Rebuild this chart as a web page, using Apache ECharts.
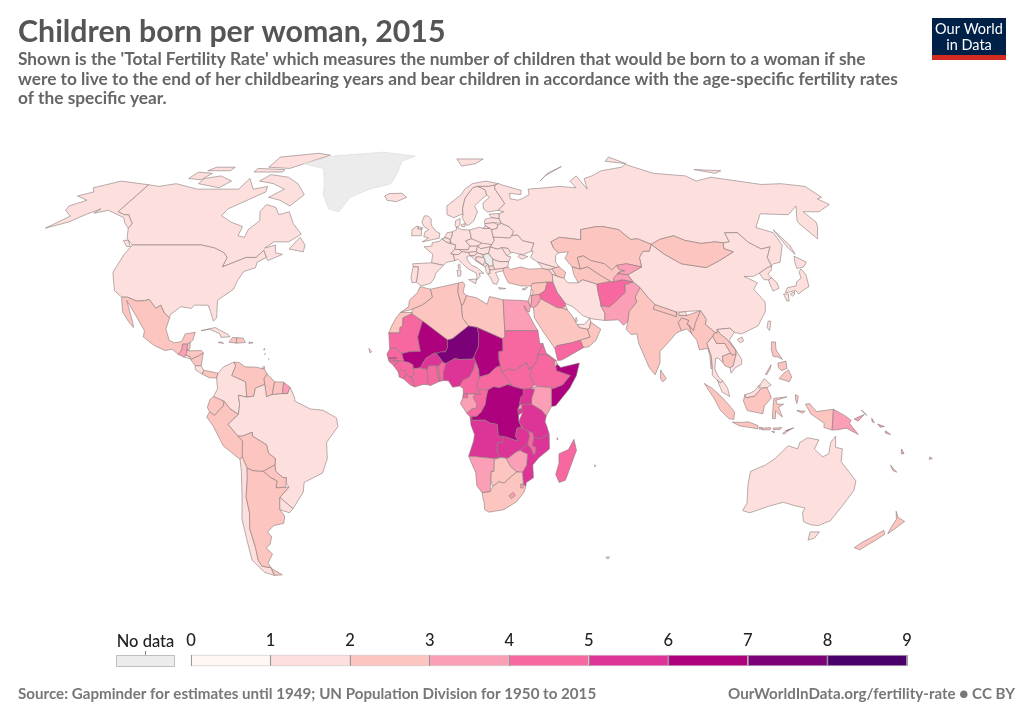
<!DOCTYPE html>
<html>
<head>
<meta charset="utf-8">
<title>Children born per woman, 2015</title>
<script src="https://cdn.jsdelivr.net/npm/echarts@6/dist/echarts.min.js"></script>
<style>html,body{margin:0;background:#fff}#chart{width:1024px;height:723px}</style>
</head>
<body>
<div id="chart"></div>
<script>
// values, one bin per colour is all the picture really tells
const countries = ['Canada','USA','Mexico','Guatemala','Belize','El Salvador','Honduras','Nicaragua','Costa Rica','Panama','Cuba','Haiti','Dominican Rep.','Jamaica','Puerto Rico','Trinidad',
  'Colombia','Venezuela','Guyana','Suriname','French Guiana','Ecuador','Peru','Brazil','Bolivia','Paraguay','Chile','Argentina','Uruguay',
  'Morocco','W. Sahara','Mauritania','Algeria','Tunisia','Libya','Egypt','Sudan','South Sudan','Eritrea','Djibouti','Ethiopia','Somalia','Kenya','Uganda','Tanzania','Rwanda','Burundi','DR Congo','Angola','Zambia','Malawi','Mozambique','Zimbabwe','Botswana','Namibia','South Africa','Lesotho','Swaziland','Madagascar',
  'Mali','Senegal','Gambia','Guinea-Bissau','Guinea','Sierra Leone','Liberia','Ivory Coast','Ghana','Togo','Benin','Burkina Faso','Niger','Nigeria','Cameroon','Chad','CAR','Congo','Gabon','Eq. Guinea',
  'Iceland','Ireland','UK','France','Spain','Portugal','Belgium','Netherlands','Luxembourg','Germany','Switzerland','Austria','Italy','Denmark','Norway','Sweden','Finland','Estonia','Latvia','Lithuania','Poland','Czechia','Slovakia','Hungary','Slovenia','Croatia','Bosnia','Montenegro','Albania','Macedonia','Greece','Bulgaria','Romania','Moldova','Ukraine','Belarus','Russia',
  'Turkey','Georgia','Armenia','Azerbaijan','Cyprus','Syria','Lebanon','Israel','Jordan','Iraq','Iran','Saudi Arabia','Kuwait','Qatar','UAE','Oman','Yemen','Sri Lanka','Afghanistan','Pakistan','India','Nepal','Bhutan','Bangladesh','Myanmar','China','Taiwan','Mongolia','Kazakhstan','Uzbekistan','Turkmenistan','Kyrgyzstan','Tajikistan','Thailand','Laos','Cambodia','Vietnam','Malaysia','Brunei','Indonesia','Timor-Leste','PNG','Philippines','Japan','North Korea','South Korea','Australia','New Zealand','Solomon Is.','Vanuatu','New Caledonia','Fiji','Cape Verde','Comoros','Mauritius'];
const fertility = [1.6,1.9,2.2,3.1,2.5,2.0,2.4,2.2,1.8,2.5,1.7,2.9,2.4,2.0,1.6,1.8,
  1.9,2.3,2.5,2.4,3.4,2.5,2.4,1.8,2.9,2.5,1.8,2.3,2.0,
  2.5,2.5,4.7,2.8,2.2,2.4,3.4,4.4,4.9,4.1,2.9,4.3,6.4,3.9,5.6,5.1,3.9,5.8,6.2,5.8,5.2,4.6,5.2,3.9,2.8,3.5,2.4,3.2,3.1,4.3,
  6.3,4.8,5.5,4.7,5.0,4.6,4.6,4.9,4.2,4.5,5.0,5.5,7.4,5.5,4.7,6.1,4.2,4.8,3.7,4.8,
  1.9,1.9,1.9,2.0,1.3,1.2,1.8,1.7,1.6,1.4,1.5,1.5,1.4,1.7,1.8,1.9,1.8,1.6,1.5,1.6,1.3,1.5,1.4,1.3,1.6,1.5,1.3,1.7,1.7,1.5,1.3,1.5,1.5,1.2,1.5,1.6,1.8,
  2.1,2.0,1.6,2.2,1.3,2.9,1.7,3.0,3.4,4.6,1.7,2.7,2.1,1.9,1.8,2.7,4.1,2.1,4.6,3.7,2.4,2.2,2.0,2.2,2.2,1.6,1.1,2.7,2.7,2.4,2.9,3.1,3.4,1.5,2.7,2.6,2.0,2.0,1.9,2.4,5.9,3.7,2.9,1.4,1.9,1.2,1.9,2.05,4.0,3.4,2.2,2.6,2.4,4.3,1.4];
const noDataCountries = ['Greenland','Serbia','Kerguelen'];
const legendTicks = [0,1,2,3,4,5,6,7,8,9];
const legendColors = ['#fff7f3','#fde0dd','#fcc5c0','#fa9fb5','#f768a1','#dd3497','#ae017e','#7a0177','#49006a'];

// simplified country outlines in lon,lat - one string per ring
const outlines = {
  Canada:['-141,69.6 -135,69 -128,70 -115,68 -108,68 -95,68 -94,72 -88,68 -82,69 -81,67 -87,64 -93,61 -94,58.7 -88,56.5 -82,55 -82,52 -79,51.5 -79,54 -76,57 -78,60 -77,62.5 -72,61.5 -69,59 -65,60 -61,56 -56,52.5 -60,50 -66,50 -69,48 -65,49 -64,46.5 -61,46 -66,44 -67,45 -69,47.3 -71,45 -75,45 -79,43.5 -83,42 -82.5,45 -84.5,46.5 -89,48 -95,49 -123,49 -127,51 -130,54.5 -130,56 -135,59 -137,59 -141,60',
    '-62,66 -66,62 -72,64 -78,65 -73,68 -80,70 -88,71 -85,73.5 -75,72.5 -68,70','-117,70 -105,68.5 -102,71 -110,73 -117,72','-90,76.5 -78,76 -62,82 -70,83 -90,81','-125,72 -118,71.5 -116,74 -124,74.5','-95,74.5 -80,74.5 -80,75.5 -95,76','-59,47.7 -53,46.8 -53,49 -56,51.5','-128,50.5 -125,48.5 -123.5,48.5 -126,50.5','-120,75 -108,75 -108,76.5 -118,76.5'],
  USA:['-123,49 -95,49 -89,48 -84.5,46.5 -82.5,45 -83,42 -79,43.5 -75,45 -71,45 -69,47.3 -67,45 -70,43.5 -70,41.7 -74,40.6 -75.5,37.5 -76,35 -81,31.5 -80,26 -81,25 -82.7,28 -84,30 -89,30 -90,29 -94,29.5 -97.2,27 -97.2,26 -99.5,27.5 -101.5,30 -103,29 -106.5,31.8 -108,31.4 -111,31.3 -114.8,32.5 -117,32.5 -120.5,34.5 -122.5,37.5 -124.3,40.3 -124,46',
    '-141,69.6 -141,60 -137,59 -135,59 -130,56 -130,54.5 -133,56 -136,58 -146,60.5 -151,59.5 -150,61 -154,59 -158,56.5 -165,54.5 -160,58.5 -165,60.5 -166,62 -161,64 -168,65.5 -163,67 -166,68.5 -157,71'],
  Greenland:['-73,78 -60,81.5 -32,83.6 -12,81.5 -19,79 -20,74 -22,70 -32,68 -40,65 -43,60 -48,61 -53,66 -55,70 -60,76'],
  Mexico:['-117,32.5 -114.8,32.5 -111,31.3 -108,31.4 -106.5,31.8 -103,29 -101.5,30 -99.5,27.5 -97.2,26 -97.8,22.5 -96,19 -94,18.2 -91.5,18.6 -90.5,21 -87,21.5 -87.5,19 -88.3,18.4 -89.2,17.8 -91,17.8 -91,16 -92.2,14.6 -94.5,16.2 -97,15.8 -101,17.3 -105.5,20 -105.5,22 -109,26 -112.5,29.5 -114.7,31.5 -112,27.5 -110,24 -109.7,23 -112,25 -115,28'],
  Guatemala:['-92.2,14.6 -91,16 -91,17.8 -89.2,17.8 -89.2,15.9 -88.2,15.7 -89.3,14.4 -90.1,13.8'],
  Belize:['-89.2,17.8 -88.3,18.4 -88.2,16.3 -89.2,15.9'],
  'El Salvador':['-90.1,13.8 -89.3,14.4 -87.8,13.9 -87.8,13.2'],
  Honduras:['-89.2,15.9 -88.2,15.7 -84,15.8 -83.2,15 -85,14 -87.5,13 -87.8,13.9 -89.3,14.4'],
  Nicaragua:['-87.5,13 -85,14 -83.2,15 -83.6,11 -85.7,11'],
  'Costa Rica':['-85.7,11 -83.6,11 -82.6,9.6 -83,8.4 -85.6,9.8'],
  Panama:['-83,8.4 -82.6,9.6 -80,9.2 -77.4,8.7 -77.9,7.2 -80.5,7.3'],
  Cuba:['-85,22 -80,23 -75,20.8 -74.3,20.1 -77.5,19.9 -78,21 -82,22.5'],
  Haiti:['-74.4,18.4 -71.8,18.1 -71.7,19.8 -73.3,19.9'],
  'Dominican Rep.':['-71.8,18.1 -68.5,18.3 -69.5,19.7 -71.7,19.8'],
  Jamaica:['-78.3,18.3 -76.3,18 -77,18.5'],
  'Puerto Rico':['-67.2,18 -65.7,18.2 -67.2,18.5'],
  Trinidad:['-61.8,10.1 -61,10.1 -61,10.8 -61.6,10.7','-61.2,14.5 -60.9,14.5 -61,14.9','-61.7,16 -61.2,16.1 -61.5,16.5','-59.7,13 -59.4,13.1 -59.6,13.3'],
  Colombia:['-77.4,8.7 -75.6,10.7 -72,12.2 -71.3,11 -72.5,8 -70,7 -67.5,6 -67,1.2 -70,1.8 -69.5,-1 -70,-4.2 -73,-2.4 -75,-0.1 -78.8,1.4 -77.4,3.8 -77.9,7.2'],
  Venezuela:['-72,12.2 -70,12 -68,10.7 -64,10.6 -61,10 -60,8.5 -61,7 -60.7,5.2 -64,4 -64.5,1.5 -67,1.2 -67.5,6 -70,7 -72.5,8 -71.3,11'],
  Guyana:['-60,8.5 -57.2,6 -58,2 -60,1.3 -60.7,5.2 -61,7'],
  Suriname:['-57.2,6 -54,5.9 -54.4,2.3 -58,2'],
  'French Guiana':['-54,5.9 -51.7,4.3 -52.5,2.3 -54.4,2.3'],
  Ecuador:['-78.8,1.4 -75,-0.1 -75.3,-1.5 -78.5,-4.5 -80.2,-3.4 -81,-2 -80,0.5'],
  Peru:['-80.2,-3.4 -78.5,-4.5 -75.3,-1.5 -75,-0.1 -73,-2.4 -70,-4.2 -73.8,-7.3 -70.5,-11 -69,-12.5 -69.5,-17.5 -70.4,-18.3 -76,-14 -79,-8 -81.3,-5'],
  Brazil:['-70,-4.2 -69.5,-1 -70,1.8 -67,1.2 -64.5,1.5 -64,4 -60.7,5.2 -60,1.3 -58,2 -54.4,2.3 -52.5,2.3 -51.7,4.3 -50,1 -50,0 -44.5,-2.5 -40,-2.9 -35.2,-5.3 -34.8,-8 -39,-13 -39,-18 -41,-22.5 -48,-25.5 -48.7,-28.5 -53.4,-33.7 -57.6,-30.2 -53.8,-27 -54.6,-25.5 -54.3,-24 -55.5,-24 -58,-22 -58,-20 -57.7,-18 -60,-16.3 -60.5,-13.7 -65.3,-11 -65.3,-9.8 -69,-11 -70.5,-11 -73.8,-7.3'],
  Bolivia:['-69,-12.5 -70.5,-11 -69,-11 -65.3,-9.8 -65.3,-11 -60.5,-13.7 -60,-16.3 -57.7,-18 -58,-20 -62.5,-22 -64,-22 -66.2,-21.8 -68.2,-21 -69.5,-17.5'],
  Paraguay:['-62.5,-22 -58,-20 -58,-22 -55.5,-24 -54.3,-24 -54.6,-25.5 -55,-27 -58.5,-27.2 -57.8,-25 -60,-24'],
  Chile:['-70.4,-18.3 -69.5,-17.5 -68.2,-21 -68.5,-24 -70,-30 -70,-35 -71.5,-40 -71.7,-46 -72.5,-50 -72,-52 -68.5,-52.5 -68.5,-55 -72,-54 -75,-50 -74,-43 -73.5,-37 -71.5,-30 -70.4,-22'],
  Argentina:['-66.2,-21.8 -64,-22 -62.5,-22 -60,-24 -57.8,-25 -58.5,-27.2 -55,-27 -53.8,-27 -57.6,-30.2 -58.4,-34 -57,-36 -58,-38.3 -62,-39 -65,-41 -64,-42.5 -65.5,-45 -67.5,-46 -65.8,-48 -69,-51 -68.5,-52.5 -72,-52 -72.5,-50 -71.7,-46 -71.5,-40 -70,-35 -70,-30 -68.5,-24 -68.2,-21','-68.5,-52.7 -65,-54.8 -68.5,-55'],
  Uruguay:['-57.6,-30.2 -53.4,-33.7 -55,-35 -58.4,-34'],
  Morocco:['-5.9,35.8 -2,35 -1.2,32.5 -5,30 -8.7,28.7 -13,27.7 -10,29.5 -9.8,31.5 -6.8,34'],
  'W. Sahara':['-13,27.7 -8.7,27.7 -8.7,27.3 -12,26 -12,23.4 -13,23 -13,21.3 -17,21.3 -16,23.5 -14.5,26'],
  Mauritania:['-17,21.3 -13,21.3 -13,23 -12,23.4 -12,26 -8.7,27.3 -4.8,25 -6.5,20 -5.5,15.5 -9.5,15.4 -12.2,14.8 -14.5,16.6 -16.5,16.3'],
  Algeria:['-2,35 8.6,36.9 8.3,34 9.5,30 9.8,26 11.9,23.5 6,19.5 4.2,19.1 -4.8,25 -8.7,27.3 -8.7,28.7 -5,30 -1.2,32.5'],
  Tunisia:['8.6,36.9 10.2,37.3 11,36.5 10.2,34 11.5,33 10.2,30.3 9.5,30 8.3,34'],
  Libya:['11.5,33 15.2,32.3 19,30.3 20,32.7 25,31.7 25,22 25,20 24,19.5 15,23 11.9,23.5 9.8,26 9.5,30 10.2,30.3'],
  Egypt:['25,31.7 31,31.5 34.2,31.3 34.9,29.5 34.3,27.8 33,28.5 32.6,29.9 35.7,24 37,22 25,22'],
  Sudan:['25,22 37,22 37.4,18 38.5,18 36.5,14.3 36,12.5 34.3,10.5 33,10 32.5,12 28,9.5 26,10 23.5,9 23,11 22.5,13 22.5,15.5 24,15.7 24,19.5 25,20'],
  'South Sudan':['23.5,9 26,10 28,9.5 32.5,12 33,10 34.3,10.5 33.5,8 35,5 33.8,4 31,3.7 28,4.4 25.5,5.2 27,5 24.5,8'],
  Eritrea:['36.5,14.3 38.5,18 39.5,15 43,12.7 42.4,12.4 40,14.5 37,14.5'],
  Djibouti:['42.4,12.4 43,12.7 43.3,11.5 42,11'],
  Ethiopia:['36.5,14.3 37,14.5 40,14.5 42.4,12.4 42,11 42.8,10.9 43,9.5 47.9,8 45,5 41.9,3.9 40,4.3 36,4.5 35,5 33.5,8 34.3,10.5 36,12.5'],
  Somalia:['43.3,11.5 44.5,10.5 51.2,11.9 50,8 47.5,4 42.5,-1.5 41,-1.7 41,3.9 41.9,3.9 45,5 47.9,8 43,9.5 42.8,10.9'],
  Kenya:['36,4.5 40,4.3 41,3.9 41,-1.7 39.2,-4.7 37.6,-3 33.9,-1 34,1 35,3.5 34,4.2'],
  Uganda:['31,3.7 33.8,4 35,3.5 34,1 33.9,-1 30.5,-1 29.6,-1.4 30,1 31,2'],
  Tanzania:['33.9,-1 37.6,-3 39.2,-4.7 38.8,-6.5 39.5,-8 40.4,-10.4 37.5,-11.7 34.9,-11.5 34.5,-10 33,-9.5 31,-8.5 29.5,-6.5 30.8,-3.5 30.5,-2.4 30.5,-1'],
  Rwanda:['29.6,-1.4 30.5,-1 30.5,-2.4 29,-2.7'],
  Burundi:['29,-2.7 30.5,-2.4 30.8,-3.5 29.4,-4.4'],
  'DR Congo':['25.5,5.2 28,4.4 31,3.7 31,2 30,1 29.6,-1.4 29,-2.7 29.4,-4.4 29.5,-6.5 30.5,-8.2 28.9,-8.5 28.4,-11 29.5,-12.5 28,-12.2 25.5,-11.4 22.3,-11 21.8,-7.3 19.5,-7 17.5,-6 12.3,-6 13,-4.8 14.5,-4.8 16,-3.5 17.5,-1 17.8,1 18.5,3.5 20.5,4.5 22.5,4.2'],
  Angola:['12.3,-6 17.5,-6 19.5,-7 21.8,-7.3 22.3,-11 24,-11 24,-13 22,-13 22,-16.2 23.4,-17.6 21,-18 13.9,-17.4 11.8,-17.3 13.5,-12.5 13.8,-10.5 12.5,-7.5','12.2,-5 13,-4.8 12.8,-5.8 12.2,-5.7'],
  Zambia:['22,-13 24,-13 24,-11 25.5,-11.4 28,-12.2 29.5,-12.5 28.4,-11 28.9,-8.5 30.5,-8.2 31,-8.5 33,-9.5 33.5,-11 32.8,-13.6 30.3,-15.3 28.8,-16 26,-17.9 23.4,-17.6 22,-16.2'],
  Malawi:['33,-9.5 34.5,-10 34.9,-11.5 34.6,-14 35.8,-14.5 35.8,-16 35.1,-17 34.2,-15 32.8,-13.6 33.5,-11'],
  Mozambique:['40.4,-10.4 40.7,-15 37,-17.8 35,-20 35.5,-24 33,-25.5 32.9,-26.8 32,-26 31.4,-22.3 32.8,-20 32.9,-16.6 30.3,-16 30.3,-15.3 32.8,-13.6 34.2,-15 35.1,-17 35.8,-16 35.8,-14.5 34.6,-14 34.9,-11.5 37.5,-11.7'],
  Zimbabwe:['26,-17.9 28.8,-16 30.3,-15.5 32.9,-16.6 32.8,-20 31.4,-22.3 29.4,-22.2 27,-20.5 25.3,-18'],
  Botswana:['21,-18 23.4,-17.6 25.3,-18 27,-20.5 29.4,-22.2 26,-24.7 25,-25.7 23,-25.3 20.8,-26.8 20,-24.7 20,-22 21,-22'],
  Namibia:['11.8,-17.3 13.9,-17.4 21,-18 23.4,-17.6 21,-18.3 21,-22 20,-22 20,-28.4 17,-28.7 15,-26.5 14.5,-22.5'],
  'South Africa':['17,-28.7 20,-28.4 20.8,-26.8 23,-25.3 25,-25.7 26,-24.7 29.4,-22.2 31.4,-22.3 32,-26 32.9,-26.8 32.5,-28.5 30,-31.5 25.5,-34 20,-34.8 18.3,-34 18,-32'],
  Lesotho:['27,-29.6 28.5,-28.6 29.3,-29.5 28,-30.6'],
  Swaziland:['31,-26 32,-26 32,-27.2 31,-27.2'],
  Madagascar:['49.3,-12 50.4,-15.5 49.5,-18 47.2,-24.8 45,-25.5 43.5,-23 44.4,-19.5 44.2,-16.5 47.5,-15.2'],
  Mali:['-12.2,14.8 -9.5,15.4 -5.5,15.5 -6.5,20 -4.8,25 4.2,19.1 4.2,16.8 3.5,15.4 1.5,15.3 0.2,14.9 -0.5,15 -2,14.2 -3.5,13.4 -4.5,12 -5.5,10.4 -7,10.2 -8,10.2 -8.2,11.3 -9.5,12 -11.4,12.4'],
  Senegal:['-16.5,16.3 -14.5,16.6 -12.2,14.8 -11.4,12.4 -13.7,12.6 -16.7,12.4 -17.5,14.7'],
  Gambia:['-16.8,13.6 -14,13.7 -14,13.2 -16.8,13.2'],
  'Guinea-Bissau':['-16.7,12.4 -13.7,12.6 -13.7,11.7 -15,11'],
  Guinea:['-13.7,12.6 -11.4,12.4 -9.5,12 -8.2,11.3 -8,10.2 -7.7,8.4 -8.5,7.6 -9.4,7.5 -10.5,8.5 -10.7,9.2 -12.5,9.9 -13.3,9 -15,11 -13.7,11.7'],
  'Sierra Leone':['-13.3,9 -12.5,9.9 -10.7,9.2 -10.5,8.5 -11.4,6.9 -13,7.5'],
  Liberia:['-11.4,6.9 -10.5,8.5 -9.4,7.5 -8.5,7.6 -7.5,4.4 -9,5'],
  'Ivory Coast':['-8,10.2 -7,10.2 -5.5,10.4 -3,9.9 -2.7,5.1 -4.5,5.2 -7.5,4.4 -8.5,7.6 -7.7,8.4'],
  Ghana:['-3,9.9 -2.7,11 0,11.1 0.6,8 1.2,6.1 -2,4.8 -2.7,5.1'],
  Togo:['0,11.1 0.9,10.9 1.6,6.2 1.2,6.1 0.6,8'],
  Benin:['0.9,10.9 2.4,12.3 3.6,11.7 2.7,9 2.7,6.4 1.6,6.2'],
  'Burkina Faso':['-5.5,10.4 -4.5,12 -3.5,13.4 -2,14.2 -0.5,15 0.2,14.9 2.2,12.7 2.4,12.3 0.9,10.9 0,11.1 -2.7,11 -3,9.9'],
  Niger:['4.2,19.1 6,19.5 11.9,23.5 15,23 15.5,21 15.3,17 13.6,13.7 13,13.1 8.5,13 6.8,13.3 3.6,11.7 2.4,12.3 2.2,12.7 0.2,14.9 1.5,15.3 3.5,15.4 4.2,16.8'],
  Nigeria:['2.7,6.4 2.7,9 3.6,11.7 6.8,13.3 8.5,13 13,13.1 13.6,13.7 14.2,12.5 13.5,10 12,7.5 9.7,6.5 8.5,4.7 6,4.3 4.5,6.3'],
  Cameroon:['8.5,4.7 9.7,6.5 12,7.5 13.5,10 14.2,12.5 15,10 15.3,9.8 15.5,7.5 14.5,5 15,3.5 16,2 14,2.2 9.8,2.3 9.7,3.9'],
  Chad:['15,23 24,19.5 24,15.7 22.5,15.5 22.5,13 23,11 21.5,10.5 18.9,8.4 15.5,7.5 15.3,9.8 15,10 14.2,12.5 13.6,13.7 15.3,17 15.5,21'],
  CAR:['15.5,7.5 18.9,8.4 21.5,10.5 23,11 23.5,9 24.5,8 27,5 25.5,5.2 22.5,4.2 20.5,4.5 18.5,3.5 16.5,3.5 15,3.5 14.5,5'],
  Congo:['16,2 15,3.5 16.5,3.5 18.5,3.5 17.8,1 17.5,-1 16,-3.5 14.5,-4.8 13,-4.8 12.2,-5 11,-3.8 13,-2.3 14.2,-2.4 14.5,-1 13.2,1.3 14,2.2'],
  Gabon:['9.8,2.3 14,2.2 13.2,1.3 14.5,-1 14.2,-2.4 13,-2.3 11,-3.8 8.7,-0.8 9.6,1'],
  'Eq. Guinea':['9.8,2.3 11.3,2.2 11.3,1 9.6,1'],
  Iceland:['-24,65.5 -22,66.4 -16,66.5 -13.6,65 -18,63.5 -22.5,64'],
  Ireland:['-10,52 -6,52 -6,53.5 -5.8,54.2 -7.5,54.3 -7.5,55 -8,55.2 -10,54'],
  UK:['-5.5,50 1.4,51.2 1.7,52.8 0,53.5 -1.5,55 -2,56 -2,57.6 -3.5,58.6 -5,58.6 -6,56.5 -5,55 -3,54 -4.5,53.3 -5,51.7 -3,51.3','-7.5,55 -5.5,54.6 -5.8,54.2 -7.5,54.3'],
  France:['2.5,51 4.2,50 5.8,49.5 8.2,49 7.6,47.6 6,46.2 7,46 7.5,44 4,43.4 3,42.5 -1.7,43.3 -1.2,46 -4.7,48.4 -1.5,48.7 -1.5,49.7 1.5,50.2','8.6,42.5 9.4,43 9.5,41.6 8.8,41.5'],
  Spain:['-9,43 -1.7,43.3 3,42.5 0,40 -0.5,38.5 -2,36.8 -5.5,36 -7.4,37.2 -7,39.5 -6.8,42 -8.8,42'],
  Portugal:['-8.8,42 -6.8,42 -7,39.5 -7.4,37.2 -9,37 -9.5,38.8'],
  Belgium:['2.5,51 4.2,51.4 6,50.8 5.8,49.5 4.2,50'],
  Netherlands:['3.5,51.4 4.7,53 7,53.3 6.8,52 6,50.8 4.2,51.4'],
  Luxembourg:['5.8,50.1 6.4,49.9 6.2,49.5 5.8,49.5'],
  Germany:['6,50.8 6.8,52 7,53.3 8.8,54 8.6,54.9 11,54 14.2,53.9 14.7,51 12.2,50.3 13.8,48.7 13,47.5 7.6,47.6 8.2,49 6.2,49.5'],
  Switzerland:['6,46.2 7.6,47.6 9.6,47.5 10.4,46.8 9,45.9 7,46'],
  Austria:['9.6,47.5 13,47.5 13.8,48.7 17,48.7 16.2,46.9 13,46.6 10.4,46.8'],
  Italy:['7,46 9,45.9 10.4,46.8 13,46.6 13.7,45.6 12.3,45.3 12.4,44.2 14,42.5 16,41.8 18.5,40 16.7,40 17,39 15.7,38 15.7,40 12.5,41.4 10.5,43 8.8,44.4 7.5,44','12.5,38 15.6,38.2 15.1,36.7','8.2,41 9.7,41 9.6,39.2 8.5,39'],
  Denmark:['8.2,55.5 8.6,57 10.6,57.7 10.3,55.6 9.6,54.9 8.6,54.9','11,55.7 12.6,56 12.4,55 11,55'],
  Norway:['5,59 5,62 12,66 14,68 18,70 25,71 31,70 29,69.5 25.7,69 20.5,69 18,68.5 15,66 13.5,64.5 12,61 12,59 10.7,59 8,58','14,77 22,78 27,80 12,80'],
  Sweden:['12,59 12,61 13.5,64.5 15,66 18,68.5 20.5,69 23.7,67.8 24,65.8 21.5,64.5 17.5,62 18.5,60 16.5,57 14,55.5 13,55.5 11.5,58'],
  Finland:['20.5,69 25.7,69 29,69.5 28.5,68 30,65.5 31.5,62.8 27.8,60.5 23,59.9 21.4,61 21.5,63 25,65 24,65.8 23.7,67.8'],
  Estonia:['23.5,59.2 28,59.4 27.5,57.6 24.3,58'],
  Latvia:['21,56 21,56.8 21.5,57.5 24.3,58 27.5,57.6 28.2,56.1 25,56.3'],
  Lithuania:['21,56 25,56.3 26.6,55.6 25.7,54.3 23.5,54 22.8,54.4 21,55.3'],
  Poland:['14.2,53.9 18.5,54.8 20,54.4 22.8,54.4 23.5,54 23.7,51.6 24,50.5 22.7,49.1 19,49.4 18.8,49.6 14.7,51'],
  Czechia:['12.2,50.3 14.7,51 18.8,49.6 17,48.7 13.8,48.7'],
  Slovakia:['17,48.7 18.8,49.6 19,49.4 22.7,49.1 22.1,48.4 18,47.8'],
  Hungary:['16.2,46.9 17,48.7 18,47.8 22.1,48.4 21,46.3 18.8,45.9 16.5,46.5'],
  Slovenia:['13.7,45.6 13,46.6 16.2,46.9 16.5,46.5 15.3,45.5'],
  Croatia:['13.7,45.5 15.3,45.5 16.5,46.5 18.8,45.9 19,45 16,45.2 15.8,44.3 18.4,42.5 15.5,44 14.5,45'],
  Bosnia:['16,45.2 19,45 19.4,44 18.4,42.6 15.8,44.3'],
  Serbia:['18.8,45.9 21,46.3 22.5,44.5 22.4,43 22.4,42.3 20.6,42.2 20.3,42.9 19.5,43.2 19.4,44 19,45'],
  Montenegro:['18.4,42.5 19.5,43.2 20.3,42.9 19.3,41.9'],
  Albania:['19.3,41.9 20.3,42.9 20.6,42.2 20.9,41 20.9,40 20,39.7 19.4,40.5'],
  Macedonia:['20.6,42.2 22.4,42.3 22.9,41.3 20.9,41'],
  Greece:['20,39.7 20.9,40 20.9,41 22.9,41.3 26.3,41.6 26,40.8 23,40.2 24,38 23,36.5 21.7,36.8 21,38.5','23.6,35.5 26.3,35.2 24,35'],
  Bulgaria:['22.5,44.5 25,43.7 28.6,43.7 28,42 26.3,41.6 22.9,41.3 22.4,42.3 22.4,43'],
  Romania:['21,46.3 22.1,48.4 24.9,47.7 26.6,48.2 28.2,45.5 29.7,45.2 28.6,43.7 25,43.7 22.5,44.5'],
  Moldova:['26.6,48.2 29,48 30,46.5 28.2,45.5'],
  Ukraine:['22.7,49.1 24,50.5 23.7,51.6 30.5,51.3 31.5,52.1 34,52.3 35.5,50.4 40,49.6 38.2,47 35,46 33.5,46 36.5,45.3 34,44.4 32.5,45.3 33.5,46 31,46.6 30,46.5 29,48 26.6,48.2 24.9,47.7 22.1,48.4'],
  Belarus:['23.5,54 25.7,54.3 26.6,55.6 28.2,56.1 31,55 32.7,53.4 31.5,52.1 30.5,51.3 23.7,51.6'],
  Russia:['28,59.4 30.2,60 27.8,60.5 31.5,62.8 30,65.5 28.5,68 29,69.5 31,70 33,69.4 41,67.5 40,66 35,66.5 34.5,64.5 38,64 40.5,64.7 44,66 44.5,68 53,68.5 60,69 68,68.5 67,71 72,73 73,68 75,72 80,73 87,75 100,76.5 104,77.7 113,74 128,73 130,71 140,72.5 160,69.7 170,70 180,69 180,65 177,64.5 179,62.5 170,60 163,60 163.5,56.5 162,55 157,51 155.5,56 156,57 163,62 155,59 143,59.3 135.5,54.7 141,53 140.5,49 135,43.5 132,43 130.7,42.3 131,45 135,48.4 130.9,47.7 127.5,49.8 126,53 120.7,53 119.8,50 117,49.7 114,50 108,49.5 102,50.5 98.5,52 92,50.8 87.5,49.2 83,51 80,50.8 77,54 71,55 68,55 61,54 59.5,50.7 51,51.5 47,50 47.5,48 49,46.5 47.5,45.5 47,43.5 48,42 46.5,41.8 40,43.5 37.5,45 39,47 38.2,47 40,49.6 35.5,50.4 34,52.3 31.5,52.1 32.7,53.4 31,55 28.2,56.1 27.5,57.6',
    '52,71 56,73 68,76.8 58,74','142,54 143.5,49 143,46 142,48','95,79 105,78 100,81','137,75.5 150,75 145,74','20,54.4 22.8,54.4 21,55.3'],
  Turkey:['26.3,41.6 28,42 29,41.2 33,42 36,41.3 41.5,41.5 43.5,41.2 44.7,39.7 44.5,37.2 42.3,37.2 36.7,36.8 36,36 32.5,36 30.5,36.4 27.5,37 26.3,39.5 26,40.8'],
  Georgia:['40,43.5 46.5,41.8 45,41.3 43.5,41.2 41.5,41.5'],
  Armenia:['43.5,41.2 45,41.3 46.5,39 44.7,39.7'],
  Azerbaijan:['45,41.3 46.5,41.8 48,42 50,40.3 49,38.4 46.5,39'],
  Cyprus:['32.4,35 34.5,35.6 33.5,34.7'],
  Syria:['36,36 36.7,36.8 42.3,37.2 41,34.5 38.8,33.4 35.8,33 35.9,35'],
  Lebanon:['35.9,35 36.6,34.2 35.8,33 35.2,33.1'],
  Israel:['35.2,33.1 35.8,33 35.5,31 34.9,29.5 34.2,31.3'],
  Jordan:['35.8,33 38.8,33.4 39,32 37.5,30 36,29.2 34.9,29.5 35.5,31'],
  Iraq:['42.3,37.2 44.5,37.2 45.5,34 48,30.5 47.9,29.9 46.5,29.1 44.7,29.2 39,32 38.8,33.4 41,34.5'],
  Iran:['44.5,37.2 44.7,39.7 46.5,39 49,38.4 50,37 54,37 56,38 61,36.6 60.8,34 61,31 60.9,29.8 62,27.5 61.6,25.2 57,25.7 54,26.6 50.5,29.5 48,30.5 45.5,34'],
  'Saudi Arabia':['36,29.2 37.5,30 39,32 44.7,29.2 46.5,29.1 48.4,28.5 50,26.5 51,24.5 52,23 55,22.5 55.7,20 52,19 48.8,18.2 43.5,17.3 42.7,16.5 39,21.5 36,26'],
  Kuwait:['46.5,29.1 47.9,29.9 48.4,28.5'],
  Qatar:['51,24.7 51.6,25 51.3,26.2 50.8,25.5'],
  UAE:['51.6,24 54,24 56.2,26 56.4,24.7 55.7,22.8 55,22.5 52,23'],
  Oman:['55.7,22.8 56.4,24.7 59.8,22.5 57.7,19 55,17 53,16.7 52,19 55.7,20 55,22.5'],
  Yemen:['42.7,16.5 43.5,17.3 48.8,18.2 52,19 53,16.7 45,12.8 43.5,12.7'],
  'Sri Lanka':['80,9.7 81.9,7 80.6,6 79.8,7'],
  Afghanistan:['60.8,34 61,36.6 64.5,37.2 66.5,37.4 67.5,37.3 71,38 74.9,37.3 71.5,36.3 71,34 69.3,32.9 66.5,31 64,29.4 60.9,29.8 61,31'],
  Pakistan:['60.9,29.8 64,29.4 66.5,31 69.3,32.9 71,34 71.5,36.3 74.9,37.3 77,35.5 74.3,32.5 74.5,31 71,28 70,25 68.2,23.7 66.5,25.4 61.6,25.2 62,27.5'],
  India:['74.3,32.5 77,35.5 79,32.5 81,30.2 80,28.8 88,26.4 88.2,27.9 89,26.8 92,26.8 97.3,28.3 94.5,24.5 93.3,22 92,23.7 91.2,24 92.2,25.2 89.8,26 88.2,24.5 89,22 87,21.3 85,19.5 80.3,15.5 80,12 78,8.2 76,10.5 73,18 72.7,21 70.5,20.8 69,22.5 70,25 71,28 74.5,31'],
  Nepal:['80,28.8 88,26.4 88.2,27.9 81,30.2'],
  Bhutan:['89,26.8 92,26.8 91.5,28 89.2,27.8'],
  Bangladesh:['88.2,24.5 89.8,26 92.2,25.2 91.2,24 92,23.7 92.5,21 91,22.5 89,22'],
  Myanmar:['92.5,21 92,23.7 93.3,22 94.5,24.5 97.3,28.3 98.7,25.5 98,24 101,21.5 100,20.3 97.5,18 98.5,14 98.5,10.5 98,10 98,14.5 97.5,16.5 94.5,16 94,19'],
  China:['74.9,37.3 73.7,39.5 80,42 80.5,45 83,47 85.5,47 87.5,49.2 91,46 96,43 105,41.8 111.5,44 119,46.8 116,47.8 117,49.7 119.8,50 120.7,53 126,53 127.5,49.8 130.9,47.7 135,48.4 131,45 130.7,42.3 128,41.5 124.4,40 121.5,39 118,39 122,37 119.5,35 122,31 121,28 117,23.5 110.5,21 108,21.5 106.7,22.8 102,22.4 101.7,21.2 101,21.5 98,24 98.7,25.5 97.3,28.3 91.5,28 89.2,27.8 88.2,27.9 81,30.2 79,32.5 77,35.5','108.7,19.3 110.5,20 110.8,18.8 109.5,18.2'],
  Taiwan:['120.2,23 121,25 122,25 120.9,22'],
  Mongolia:['87.5,49.2 91,46 96,43 105,41.8 111.5,44 119,46.8 116,47.8 117,49.7 114,50 108,49.5 102,50.5 98.5,52 92,50.8'],
  Kazakhstan:['47,50 51,51.5 59.5,50.7 61,54 68,55 71,55 77,54 80,50.8 83,51 87.5,49.2 85.5,47 83,47 80.5,45 80,42 74.5,43 70.5,42.5 68,41 66,43 61,44 58.5,45.5 56,45 56,41.3 53,42 51,44.7 53,46.8 49,46.5 47.5,48'],
  Uzbekistan:['56,45 58.5,45.5 61,44 66,43 68,41 70.5,42.5 71,41.2 73,40.8 70.5,40.3 68,38.5 67.5,37.3 66.5,37.4 64.5,38.5 62,40 59,42 56,41.3'],
  Turkmenistan:['53,42 56,41.3 59,42 62,40 64.5,38.5 66.5,37.4 64.5,37.2 61,36.6 56,38 54,37 53,39.5'],
  Kyrgyzstan:['70.5,42.5 74.5,43 80,42 73.7,39.5 70,39.8 70.5,40.3 73,40.8 71,41.2'],
  Tajikistan:['68,38.5 70.5,40.3 70,39.8 73.7,39.5 74.9,37.3 71,38 67.5,37.3'],
  Thailand:['97.5,18 100,20.3 101,18 104,18 105.5,15 102.5,14 102.5,12 100.9,13.4 100,13.4 99.3,10 100.5,7.5 102,6.2 101,5.7 100,6.5 98.3,8 98.5,10.5 98.5,14'],
  Laos:['101.7,21.2 102,22.4 103,20.8 104.8,19.5 107.5,16 107.5,14.7 106,14.3 105.5,15 104,18 101,18 100,20.3 101,21.5'],
  Cambodia:['102.5,14 105.5,15 106,14.3 107.5,14.7 106,11 104.8,10.4 103,11 102.5,12'],
  Vietnam:['102,22.4 106.7,22.8 108,21.5 105.7,19 107.5,16 109.3,13 109,11.5 106.8,10.5 105,8.7 104.8,10.4 106,11 107.5,14.7 107.5,16 104.8,19.5 103,20.8'],
  Malaysia:['100,6.5 101,5.7 102,6.2 103.5,4 104.2,1.4 101.5,2.8','109.6,2 111.5,2.5 113,3.2 115,5 116.7,7 119,5 117.5,4.2 115.5,4 114.5,3 113,1.5 110,1'],
  Brunei:['114.2,4.6 115,5 115,4'],
  Indonesia:['109.6,2 110,1 113,1.5 114.5,3 115.5,4 117.5,4.2 119,1 116.5,-1.5 116,-4 110.5,-3 109,0','95.3,5.5 98,4 100.5,2 103.7,-1 106,-3.5 105.8,-5.8 104,-5.5 101,-3 98.5,1','105.3,-6.6 108.7,-6.7 111,-6.5 114.5,-7.7 114.5,-8.7 108,-7.8','119.5,-5.5 119.5,-3 119.8,0.8 124.5,1.3 120.5,0.2 121,-1 123.3,-1 121.5,-2 123,-5 121.5,-4 120.5,-3 120.5,-5.5','141,-2.6 135,-3.3 132.5,-0.8 131,-1 133,-4 138,-7 138,-8.3 141,-9.1','116,-8.5 119,-8.3 119,-9 116,-9','120,-8.5 123,-8.3 122.5,-8.9 120,-8.9','119.5,-9.5 120.5,-9.5 120.5,-10','123.5,-10.2 124.6,-9.2 125,-9.5 124.4,-10.2','127.5,2 128.5,1.5 128,-0.8 127.5,0.5','128,-3 131,-3.2 130,-3.8','115,-8.2 116,-8.3 116,-8.8 115,-8.8'],
  'Timor-Leste':['124.6,-9.2 127.3,-8.4 125,-9.5'],
  PNG:['141,-2.6 145,-4.5 147.5,-6 147,-7 150.5,-10.5 146,-8.5 143,-9 141,-9.1','148.5,-5.6 152,-4.2 150,-6.3','150.8,-2.8 153,-4.5 151.5,-3.3','154.7,-5.4 155.8,-6.8 155,-6.5'],
  Philippines:['120.3,16 120.8,18.5 122.2,18.5 122,16 123.8,13 122.5,13.7 120.6,14','122,7 123.5,8.5 125.5,9.8 126.5,7.5 125.5,6 124,6.5','117.2,8.3 119.5,11.3 119,10 117.7,8.3','122,11.8 125,12.5 125,10.2 123,9.5 122,10.5'],
  Japan:['130.9,34 132.5,35.5 136,36 137,37.3 139.5,38.5 140,40.5 141.5,41.4 142,39.5 140.8,35.8 138,34.7 135.7,33.5 135,34.6 132,34','130,33.5 131.8,33.5 131,31.3 130.2,31.3','132.5,33.5 134.5,34.2 134,33.3 133,32.8','140,41.5 140.5,43 142,45.4 145.3,43.5 143,42'],
  'North Korea':['124.4,40 128,41.5 130.7,42.3 129.7,41 127.5,39.7 128.3,38.6 126.7,37.9 125,38'],
  'South Korea':['126.7,37.9 128.3,38.6 129.4,37 129.2,35.3 126.5,34.4 126.5,37'],
  Australia:['114,-22 114,-26 115.7,-32 115,-34.3 118,-35 124,-33 129,-31.7 134,-32.8 138,-33.5 137.8,-35 140,-37.8 143.5,-38.8 146.4,-39 150,-37.5 151.5,-33 153.5,-28 153,-25 149.5,-22 146,-19 145.5,-15 143,-14.5 142.5,-11 141,-13 141,-16.5 139,-17.5 135.5,-15 136.7,-12.2 132.5,-11.5 130,-13 129.5,-15 126,-14 122,-18 119,-20','144.7,-41 148.3,-41 148,-43 146,-43.6'],
  'New Zealand':['172.7,-34.5 175,-36.5 178.4,-37.7 176.9,-39.5 175.3,-41.6 174.7,-39.5 174.7,-37','172.7,-40.5 174.3,-41.7 172.7,-43.5 171,-45 169.5,-46.7 166.5,-46 168,-44.2 171,-42'],
  'Solomon Is.':['157,-7.2 159.5,-8 158,-8.2','160,-9.3 162,-10.5 160,-10'],
  Vanuatu:['166.7,-15 168,-16.5 167,-16.5'],
  'New Caledonia':['164,-20 167,-22.3 165.5,-21.8'],
  Fiji:['177.5,-17.5 178.6,-18 177.5,-18.3'],
  'Cape Verde':['-24,16.5 -23.5,15 -23,15.5'],
  Comoros:['43.3,-11.5 43.6,-12 43.2,-12'],
  Mauritius:['57.3,-20 57.8,-20.3 57.4,-20.6'],
  Kerguelen:['69,-49 70.5,-49 70,-49.7']
};

// Robinson table, every 5 degrees of latitude
const robX = [1,.9986,.9954,.99,.9822,.973,.96,.9427,.9216,.8962,.8679,.835,.7986,.7597,.7186,.6732,.6213,.5722,.5322];
const robY = [0,.062,.124,.186,.248,.31,.372,.434,.4958,.5571,.6176,.6769,.7346,.7903,.8435,.8936,.9394,.9761,1];

function lerpTable(table, lat) {
  const a = Math.min(Math.abs(lat), 89.999) / 5, i = Math.floor(a);
  return table[i] + (table[i + 1] - table[i]) * (a - i);
}
const robinson = {
  project(p) {
    const y = 1.3523 * lerpTable(robY, p[1]) * (p[1] < 0 ? 1 : -1);
    return [0.8487 * lerpTable(robX, p[1]) * p[0] * Math.PI / 180, y];
  },
  unproject(p) {
    let lat = 0;
    for (let i = 0; i < 900; i++) {
      lat = i / 10;
      if (1.3523 * lerpTable(robY, lat) >= Math.abs(p[1])) break;
    }
    lat = p[1] > 0 ? -lat : lat;
    return [p[0] / (0.8487 * lerpTable(robX, lat)) * 180 / Math.PI, lat];
  }
};

function ring(str) {
  const pts = str.split(' ').map(s => s.split(',').map(Number));
  pts.push(pts[0]);
  return [pts];
}
const worldGeo = {
  type: 'FeatureCollection',
  features: Object.keys(outlines).map(name => ({
    type: 'Feature',
    properties: { name },
    geometry: { type: 'MultiPolygon', coordinates: outlines[name].map(ring) }
  }))
};
echarts.registerMap('world', worldGeo);

const chart = echarts.init(document.getElementById('chart'));
const FONT = 'Lato';

const legendSeries = legendColors.map(c => ({
  type: 'bar', stack: 'legend', xAxisIndex: 0, yAxisIndex: 0, barWidth: '100%', silent: true,
  data: [1],
  itemStyle: { color: c, borderColor: '#c8c4c4', borderWidth: 0.6 }
}));

chart.setOption({
  animation: false,
  backgroundColor: '#fff',
  title: [
    { text: 'Children born per woman, 2015', left: 18, top: 17, padding: 0,
      textStyle: { fontFamily: FONT, fontSize: 30.3, fontWeight: 'bold', color: '#555' } },
    { text: "Shown is the 'Total Fertility Rate' which measures the number of children that would be born to a woman if she\nwere to live to the end of her childbearing years and bear children in accordance with the age-specific fertility rates\nof the specific year.",
      left: 18, top: 50, padding: 0,
      textStyle: { fontFamily: FONT, fontSize: 17.3, fontWeight: 'bold', color: '#666', lineHeight: 19.5 } },
    { text: 'Source: Gapminder for estimates until 1949; UN Population Division for 1950 to 2015', left: 18, top: 687, padding: 0,
      textStyle: { fontFamily: FONT, fontSize: 15.15, fontWeight: 'bold', color: '#777' } },
    { text: 'OurWorldInData.org/fertility-rate ● CC BY', right: 9, top: 687, padding: 0,
      textStyle: { fontFamily: FONT, fontSize: 15.15, fontWeight: 'bold', color: '#777' } }
  ],
  grid: { left: 191, width: 716, top: 655, height: 11 },
  xAxis: {
    type: 'value', min: 0, max: 9, interval: 1, position: 'top', z: 5,
    axisLine: { show: false },
    axisTick: { show: true, inside: true, length: 11, lineStyle: { color: '#888', width: 0.8 } },
    splitLine: { show: false },
    axisLabel: { fontFamily: FONT, fontSize: 16.5, fontWeight: 500, color: '#222', margin: 6,
      formatter: v => legendTicks.includes(v) ? String(v) : '' }
  },
  yAxis: { type: 'category', show: false, data: [''] },
  visualMap: {
    show: false, type: 'piecewise', seriesIndex: 0,
    pieces: legendColors.map((c, i) => ({ min: legendTicks[i], max: legendTicks[i + 1], color: c }))
  },
  geo: {
    map: 'world', projection: robinson, silent: true, roam: false,
    boundingCoords: [[-180, 90], [180, -90]],
    // the library samples an off-centre rect for these coords, hence 547 and not 436
    layoutCenter: [547.3, 401], layoutSize: 793,
    label: { show: false },
    itemStyle: { areaColor: '#ececec', borderColor: '#8a7b7b', borderWidth: 0.6 },
    regions: [{ name: 'Greenland', itemStyle: { areaColor: '#ececec', borderColor: '#d8d8d8' } }]
  },
  series: [
    {
      type: 'map', geoIndex: 0, silent: true,
      data: countries.map((name, i) => ({ name, value: fertility[i] }))
        .concat(noDataCountries.map(name => ({ name, value: NaN })))
    }
  ].concat(legendSeries),
  graphic: [
    { type: 'rect', shape: { x: 116.5, y: 655.5, width: 58, height: 11 }, style: { fill: '#ececec', stroke: '#b5b0b0', lineWidth: 0.8 } },
    { type: 'line', shape: { x1: 145.5, y1: 651, x2: 145.5, y2: 655 }, style: { stroke: '#666', lineWidth: 0.8 } },
    { type: 'text', style: { x: 145.5, y: 642, text: 'No data', align: 'center', verticalAlign: 'middle', font: '500 16.5px Lato', fill: '#222' } },
    { type: 'rect', shape: { x: 932, y: 18, width: 74, height: 42 }, style: { fill: '#002147' } },
    { type: 'rect', shape: { x: 932, y: 55, width: 74, height: 5 }, style: { fill: '#d42b21' } },
    { type: 'text', style: { x: 969, y: 29, text: 'Our World', align: 'center', verticalAlign: 'middle', font: '14.5px Lato', fill: '#fff' } },
    { type: 'text', style: { x: 969, y: 45, text: 'in Data', align: 'center', verticalAlign: 'middle', font: '14.5px Lato', fill: '#fff' } }
  ]
});
</script>
</body>
</html>
